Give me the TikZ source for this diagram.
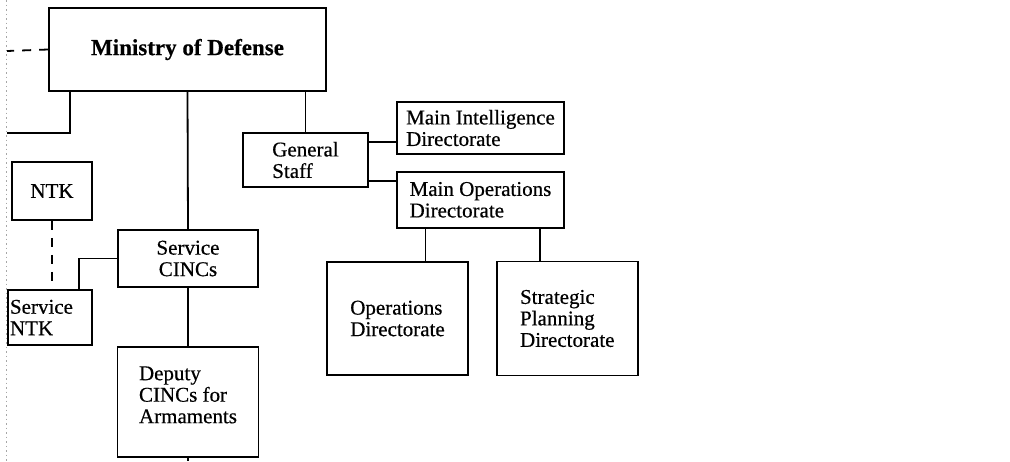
\documentclass[tikz,border=0pt]{standalone}
\usepackage{fontspec}
\setmainfont{Liberation Serif}[FakeBold=0.5]
\usetikzlibrary{positioning, calc}

\begin{document}
\begin{tikzpicture}[x=1pt, y=-1pt,
    box/.style={draw, line width=1.8pt, align=left, inner sep=0pt,
      font=\fontsize{21}{21.5}\selectfont},
    lnk/.style={line width=1.8pt},
    dsh/.style={line width=1.8pt, dash pattern=on 9pt off 8pt},
    edge/.style={gray!70, line width=0.8pt, dash pattern=on 1.5pt off 3pt}
  ]
  \useasboundingbox (0,0) rectangle (1010,461);

  \node[box, minimum width=277pt, minimum height=83pt,
    font=\fontsize{23}{26}\selectfont\bfseries] (mod) at (187.5,49.5) {Ministry of Defense};
  \node[box, minimum width=125pt, minimum height=54pt] (gs) at (305.5,160) {General\\Staff};
  \node[box, minimum width=167pt, minimum height=52pt] (mid) at (480.5,128) {Main Intelligence\\Directorate};
  \node[box, minimum width=167pt, minimum height=56pt, below=16pt of mid] (mop) {Main Operations\\Directorate};
  \node[box, minimum width=141pt, minimum height=113pt] (opd) at (397.5,318.5) {Operations\\Directorate};
  \node[box, minimum width=141pt, minimum height=114pt, right=27pt of opd] (spd) {Strategic\\Planning\\Directorate};
  \node[box, minimum width=80pt, minimum height=58pt] (ntk) at (52,191) {NTK};
  \node[box, align=center, minimum width=140pt, minimum height=57pt] (cincs) at (188,258.5) {Service\\CINCs};
  \node[box, text width=80pt, minimum width=84pt, minimum height=55pt] (sntk) at (50,317.5) {Service\\NTK};
  \node[box, minimum width=141pt, minimum height=110pt, below=58pt of cincs] (dep) {Deputy\\CINCs for\\Armaments\\[-7.5pt]};

  \coordinate (edgeA) at (7,51);
  \coordinate (edgeB) at (7,133);
  \coordinate (edgeT) at (6,0);
  \coordinate (edgeD) at (6,461);
  \coordinate (stub) at (188,461);

  \draw[edge] (edgeT) -- (edgeD);
  \draw[dsh] (mod.west) -- (edgeA);
  \draw[lnk] ([xshift=22pt]mod.south west) |- (edgeB);
  \draw[lnk] (mod.south) -- (cincs.north);
  \draw[lnk] (gs.north) -- (gs.north |- mod.south);
  \draw[lnk] ([yshift=-10pt]gs.north east) -- ([yshift=-10pt]gs.north east -| mid.west);
  \draw[lnk] ([yshift=7pt]gs.south east) -- ([yshift=7pt]gs.south east -| mop.west);
  \draw[lnk] ([xshift=28pt]opd.north) -- ([xshift=28pt]opd.north |- mop.south);
  \draw[lnk] ([xshift=-27pt]spd.north) -- ([xshift=-27pt]spd.north |- mop.south);
  \draw[dsh] (ntk.south) -- (ntk.south |- sntk.north);
  \draw[lnk] (cincs.west) -| ([xshift=29pt]sntk.north);
  \draw[lnk] (cincs.south) -- (dep.north);
  \draw[lnk] (dep.south) -- (stub);
\end{tikzpicture}
\end{document}
